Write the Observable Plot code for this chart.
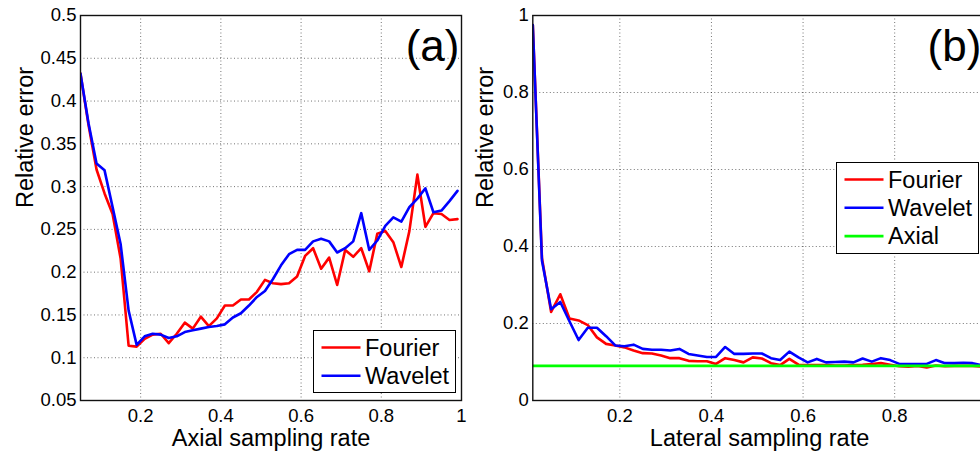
<!DOCTYPE html>
<html><head><meta charset="utf-8">
<script src="https://cdn.jsdelivr.net/npm/d3@7"></script>
<script src="https://cdn.jsdelivr.net/npm/@observablehq/plot@0.6"></script>
<style>
body{margin:0;background:#fff;}
#wrap{position:relative;width:980px;height:451px;overflow:hidden;background:#fff;font-family:"Liberation Sans",Arial,sans-serif;}
#wrap svg.pl{position:absolute;top:0;overflow:visible;}
.legend{position:absolute;background:#fff;border:1.3px solid #000;box-sizing:border-box;}
.legend svg{position:absolute;left:0;top:0;overflow:visible;}
</style></head><body><div id="wrap"></div>
<script>
// ---- Panel (a): axial sampling ----
const axialRate = [0.05,0.07,0.09,0.11,0.13,0.15,0.17,0.19,0.21,0.23,0.25,0.27,0.29,0.31,0.33,0.35,0.37,0.39,0.41,0.43,0.45,0.47,0.49,0.51,0.53,0.55,0.57,0.59,0.61,0.63,0.65,0.67,0.69,0.71,0.73,0.75,0.77,0.79,0.81,0.83,0.85,0.87,0.89,0.91,0.93,0.95,0.97,0.99];
const axialFourier = [0.432,0.372,0.320,0.292,0.268,0.216,0.114,0.113,0.122,0.127,0.128,0.117,0.128,0.141,0.134,0.148,0.137,0.146,0.161,0.161,0.168,0.168,0.177,0.191,0.187,0.186,0.187,0.195,0.219,0.228,0.204,0.217,0.185,0.226,0.218,0.228,0.201,0.245,0.248,0.235,0.206,0.248,0.314,0.253,0.269,0.268,0.261,0.262];
const axialWavelet = [0.432,0.374,0.327,0.319,0.276,0.233,0.155,0.115,0.125,0.128,0.127,0.123,0.125,0.130,0.132,0.134,0.136,0.137,0.139,0.147,0.152,0.161,0.171,0.178,0.192,0.208,0.221,0.226,0.226,0.236,0.239,0.236,0.223,0.228,0.236,0.269,0.226,0.237,0.254,0.264,0.259,0.276,0.286,0.298,0.270,0.272,0.283,0.295];
const axialXTicks = [0.2,0.4,0.6,0.8,1];
const axialYTicks = [0.05,0.1,0.15,0.2,0.25,0.3,0.35,0.4,0.45,0.5];

// ---- Panel (b): lateral sampling ----
const lateralRate = [0.01,0.03,0.05,0.07,0.09,0.11,0.13,0.15,0.17,0.19,0.21,0.23,0.25,0.27,0.29,0.31,0.33,0.35,0.37,0.39,0.41,0.43,0.45,0.47,0.49,0.51,0.53,0.55,0.57,0.59,0.61,0.63,0.65,0.67,0.69,0.71,0.73,0.75,0.77,0.79,0.81,0.83,0.85,0.87,0.89,0.91,0.93,0.95,0.97,0.99];
const lateralFourier = [0.975,0.370,0.230,0.276,0.213,0.208,0.196,0.164,0.147,0.143,0.138,0.130,0.123,0.122,0.117,0.110,0.110,0.103,0.102,0.102,0.095,0.110,0.105,0.099,0.112,0.109,0.097,0.092,0.108,0.093,0.092,0.092,0.092,0.091,0.091,0.092,0.093,0.095,0.097,0.093,0.089,0.088,0.090,0.086,0.091,0.089,0.090,0.090,0.090,0.088];
const lateralWavelet = [0.975,0.363,0.237,0.256,0.206,0.157,0.189,0.189,0.167,0.143,0.141,0.145,0.134,0.132,0.132,0.130,0.134,0.121,0.117,0.113,0.113,0.139,0.121,0.121,0.122,0.122,0.110,0.105,0.127,0.112,0.099,0.108,0.099,0.100,0.101,0.099,0.109,0.101,0.110,0.105,0.095,0.095,0.095,0.095,0.105,0.097,0.097,0.098,0.097,0.092];
const axialReference = 0.09;
const lateralXTicks = [0.2,0.4,0.6,0.8];
const lateralYTicks = [0,0.2,0.4,0.6,0.8,1];

const seriesNames = ["Fourier","Wavelet","Axial"];
const seriesColors = ["#ff0000","#0000ff","#00ff00"];

function rows(xs, ys){ return xs.map((x,i)=>({x, v: ys[i]})); }

function panel(o){
  const gridStyle = {stroke:"#000", strokeOpacity:0.55, strokeDasharray:"1,2.5", strokeWidth:1};
  const fmt = d => String(d);
  const marks = [
    Plot.gridX(o.xTicks, gridStyle),
    Plot.gridY(o.yTicks, gridStyle),
    Plot.axisX(o.xTicks, {anchor:"bottom", tickSize:0, tickPadding:8, fontSize:18.5, tickFormat:fmt, label:null}),
    Plot.axisY(o.yTicks, {anchor:"left", tickSize:0, tickPadding:4, fontSize:18.5, tickFormat:fmt, label:null}),
    Plot.tickX(o.xTicks, {x:d=>d, frameAnchor:"bottom", stroke:"#111", strokeWidth:1}),
  ];
  o.series.forEach((s,i)=>{
    marks.push(Plot.line(rows(o.x, s), {x:"x", y:"v", stroke: seriesColors[i], strokeWidth:2.6, clip:true}));
  });
  if (o.axial != null) marks.push(Plot.ruleY([o.axial], {stroke: seriesColors[2], strokeWidth:2.6}));
  marks.push(Plot.frame({stroke:"#111", strokeWidth:1.4}));
  marks.push(Plot.text([o.xLabel], {text:d=>d, frameAnchor:"bottom", lineAnchor:"bottom", dy:45, fontSize:23.5, fill:"#000"}));
  marks.push(Plot.text(["Relative error"], {text:d=>d, frameAnchor:"left", rotate:-90, lineAnchor:"bottom", dx:o.yLabelDx, fontSize:23.5, fill:"#000"}));
  marks.push(Plot.text([o.tag], {text:d=>d, frameAnchor:"top-right", textAnchor:"end", lineAnchor:"bottom", dx:o.tagDx, dy:45, fontSize:44, fill:"#000"}));
  // remove the full-height tickX added above (only used as placeholder) -> keep marks clean
  marks.splice(4,1);
  const svg = Plot.plot({
    width:o.width, height:451,
    marginLeft:o.marginLeft, marginRight:o.marginRight, marginTop:15, marginBottom:51,
    style:{fontFamily:'"Liberation Sans", Arial, sans-serif', fontSize:"18.5px", color:"#000", background:"transparent", overflow:"visible"},
    x:{domain:o.xDomain, axis:null},
    y:{domain:o.yDomain, axis:null},
    marks
  });
  svg.classList.add("pl");
  svg.style.left = o.left + "px";
  return svg;
}

const wrap = document.getElementById("wrap");
wrap.appendChild(panel({
  x: axialRate, series:[axialFourier, axialWavelet], xDomain:[0.05,1], yDomain:[0.05,0.5],
  xTicks: axialXTicks, yTicks: axialYTicks, xLabel:"Axial sampling rate", tag:"(a)",
  left:0, width:470, marginLeft:80, marginRight:9, yLabelDx:-48, tagDx:-2
}));
wrap.appendChild(panel({
  x: lateralRate, series:[lateralFourier, lateralWavelet], axial: axialReference, xDomain:[0.01,1], yDomain:[0,1],
  xTicks: lateralXTicks, yTicks: lateralYTicks, xLabel:"Lateral sampling rate", tag:"(b)",
  left:460, width:530, marginLeft:72.3, marginRight:4.2, yLabelDx:-40.3, tagDx:-5
}));

function legend(left, top, w, h, n){
  const div = document.createElement("div");
  div.className = "legend";
  Object.assign(div.style, {left:left+"px", top:top+"px", width:w+"px", height:h+"px"});
  const ns = "http://www.w3.org/2000/svg";
  const svg = document.createElementNS(ns, "svg");
  svg.setAttribute("width", w); svg.setAttribute("height", h);
  for (let i=0;i<n;i++){
    const y = 16.5 + i*28.3;
    const ln = document.createElementNS(ns, "line");
    ln.setAttribute("x1", 7.5); ln.setAttribute("x2", 46.5);
    ln.setAttribute("y1", y); ln.setAttribute("y2", y);
    ln.setAttribute("stroke", seriesColors[i]); ln.setAttribute("stroke-width", 2.6);
    svg.appendChild(ln);
    const t = document.createElementNS(ns, "text");
    t.setAttribute("x", 51); t.setAttribute("y", y); t.setAttribute("dy", "0.35em");
    t.setAttribute("font-size", "23.5"); t.setAttribute("font-family", '"Liberation Sans", Arial, sans-serif');
    t.textContent = seriesNames[i];
    svg.appendChild(t);
  }
  div.appendChild(svg);
  wrap.appendChild(div);
}
legend(313, 330, 143, 63, 2);
legend(836, 162, 143, 92, 3);
</script></body></html>
